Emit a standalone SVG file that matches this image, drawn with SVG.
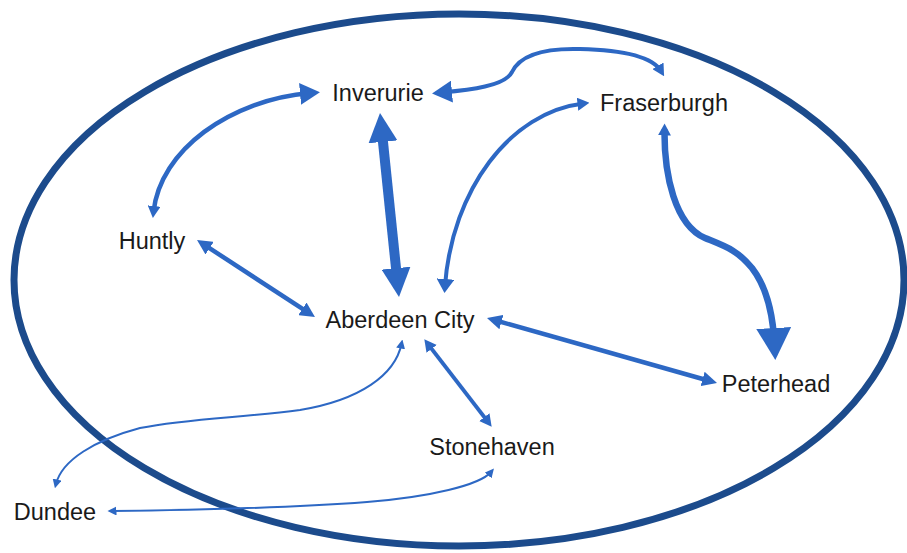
<svg xmlns="http://www.w3.org/2000/svg" width="907" height="553" viewBox="0 0 907 553">
<style>
.lbl{font-family:"Liberation Sans",Arial,sans-serif;font-size:23.5px;fill:#1a1a1a;text-anchor:middle}
.c{fill:none;stroke:#2D68C4;stroke-linecap:butt}
.h{fill:#2D68C4}
</style>
<defs>
<marker id="hT" viewBox="0 0 10 10" refX="5" refY="5" markerWidth="9" markerHeight="9" markerUnits="userSpaceOnUse" orient="auto-start-reverse" preserveAspectRatio="none"><path class="h" d="M0,0L10,5L0,10z"/></marker>
<marker id="hS" viewBox="0 0 10 10" refX="5" refY="5" markerWidth="12" markerHeight="13" markerUnits="userSpaceOnUse" orient="auto-start-reverse" preserveAspectRatio="none"><path class="h" d="M0,0L10,5L0,10z"/></marker>
<marker id="hM" viewBox="0 0 10 10" refX="5" refY="5" markerWidth="15" markerHeight="15" markerUnits="userSpaceOnUse" orient="auto-start-reverse" preserveAspectRatio="none"><path class="h" d="M0,0L10,5L0,10z"/></marker>
<marker id="hM2" viewBox="0 0 10 10" refX="5" refY="5" markerWidth="14" markerHeight="18" markerUnits="userSpaceOnUse" orient="auto-start-reverse" preserveAspectRatio="none"><path class="h" d="M0,0L10,5L0,10z"/></marker>
<marker id="hL" viewBox="0 0 10 10" refX="5" refY="5" markerWidth="20" markerHeight="22" markerUnits="userSpaceOnUse" orient="auto-start-reverse" preserveAspectRatio="none"><path class="h" d="M0,0L10,5L0,10z"/></marker>
<marker id="hXL" viewBox="0 0 10 10" refX="5" refY="5" markerWidth="29" markerHeight="29" markerUnits="userSpaceOnUse" orient="auto-start-reverse" preserveAspectRatio="none"><path class="h" d="M0,0L10,5L0,10z"/></marker>
<marker id="hBig" viewBox="0 0 10 10" refX="5" refY="5" markerWidth="32" markerHeight="35" markerUnits="userSpaceOnUse" orient="auto-start-reverse" preserveAspectRatio="none"><path class="h" d="M0,0L10,5L0,10z"/></marker>
</defs>
<rect width="907" height="553" fill="#ffffff"/>
<ellipse id="region" cx="459" cy="280" rx="445" ry="266" fill="none" stroke="#1C4B8C" stroke-width="7"/>
<g id="connectors">
<path class="c" stroke-width="10" d="M381.5,127.4 L397.5,282.6" marker-start="url(#hXL)" marker-end="url(#hXL)"/>
<path class="c" stroke-width="4.5" d="M153.5,212 C160,150 230,100 310,93" marker-start="url(#hS)" marker-end="url(#hL)"/>
<path class="c" stroke-width="4.5" d="M203.3,244.1 L308.7,312.9" marker-start="url(#hM)" marker-end="url(#hM)"/>
<path class="c" stroke-width="4" d="M442,92.5 C470,90 505,86 512,72 C520,55 545,48 580,49 C620,50 652,56 661,71" marker-start="url(#hL)" marker-end="url(#hS)"/>
<path class="c" stroke-width="4" d="M445,286 C452,190 510,112 583.5,103.5" marker-start="url(#hM2)" marker-end="url(#hS)"/>
<path class="c" stroke-width="4.5" d="M494.2,320 L709.8,381" marker-start="url(#hM)" marker-end="url(#hM)"/>
<path class="c" stroke-width="4" d="M428,344.1 L488,421.9" marker-start="url(#hS)" marker-end="url(#hS)"/>
<path class="c" stroke-width="6.5" d="M664.5,129.5 C664,175 675,225 705,238 C727,247 737,250 752,268 C766,286 773,315 774.5,344" marker-start="url(#hS)" marker-end="url(#hBig)"/>
<path class="c" stroke-width="2" d="M401.5,344 C395,375 360,400 300,410 C240,418 190,418 140,428 C95,440 62,460 56,484" marker-start="url(#hT)" marker-end="url(#hT)"/>
<path class="c" stroke-width="2" d="M491,472 C480,485 430,497 367,502 C300,507 200,510 112,511" marker-start="url(#hT)" marker-end="url(#hT)"/>
</g>
<g id="inverurie"><text class="lbl" x="378" y="101">Inverurie</text></g>
<g id="fraserburgh"><text class="lbl" x="664" y="111">Fraserburgh</text></g>
<g id="huntly"><text class="lbl" x="152" y="249">Huntly</text></g>
<g id="aberdeen"><text class="lbl" x="400" y="328">Aberdeen City</text></g>
<g id="peterhead"><text class="lbl" x="776" y="392">Peterhead</text></g>
<g id="stonehaven"><text class="lbl" x="492" y="455">Stonehaven</text></g>
<g id="dundee"><text class="lbl" x="55" y="520">Dundee</text></g>
</svg>
